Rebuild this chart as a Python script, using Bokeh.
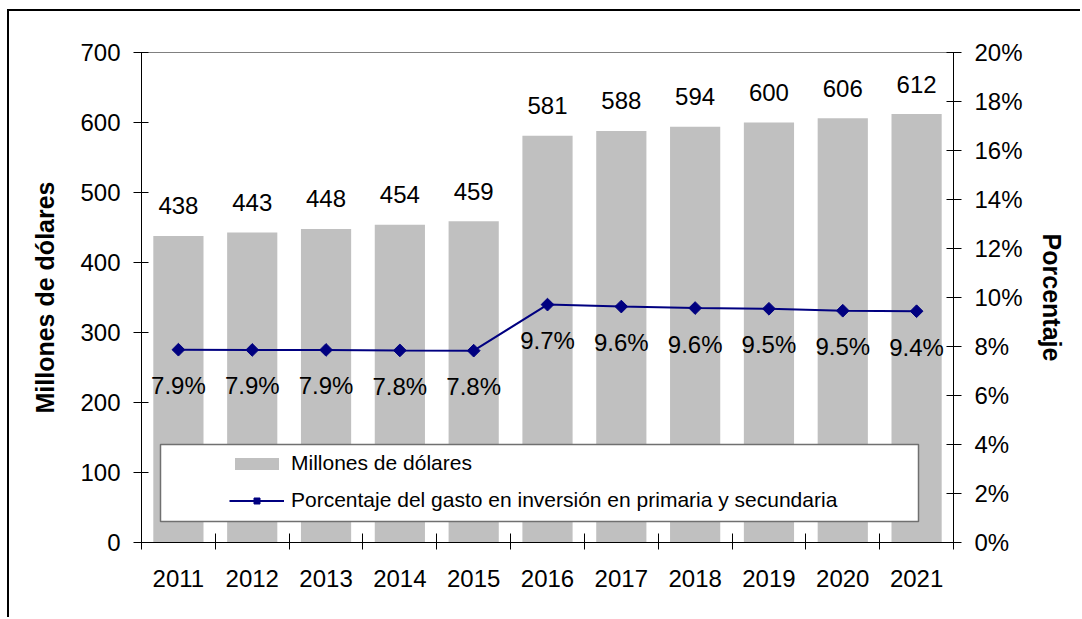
from bokeh.plotting import figure
from bokeh.models import (Range1d, LinearAxis, FixedTicker, NumeralTickFormatter,
                          ColumnDataSource, LabelSet, Legend, LegendItem, BoxAnnotation)
from bokeh.core.properties import value
from bokeh.embed import file_html
from bokeh.resources import INLINE

# ---------------- data ----------------
years = [2011, 2012, 2013, 2014, 2015, 2016, 2017, 2018, 2019, 2020, 2021]
year_labels = ["2011", "2012", "2013", "2014", "2015", "2016", "2017", "2018", "2019", "2020", "2021"]
millones = [438, 443, 448, 454, 459, 581, 588, 594, 600, 606, 612]
porcentaje = [0.0787, 0.0786, 0.0786, 0.0784, 0.0783, 0.0971, 0.0963, 0.0957, 0.0954, 0.0946, 0.0944]
left_ticks = [0, 100, 200, 300, 400, 500, 600, 700]
right_ticks = [0.0, 0.02, 0.04, 0.06, 0.08, 0.10, 0.12, 0.14, 0.16, 0.18, 0.20]
bar_name = "Millones de dólares"
line_name = "Porcentaje del gasto en inversión en primaria y secundaria"

FONT = "Liberation Sans"

src = ColumnDataSource(dict(
    x=years,
    m=millones,
    m_txt=[str(v) for v in millones],
    pc=porcentaje,
    pc_txt=[f"{v * 100:.1f}%" for v in porcentaje],
))

p = figure(width=1073, height=608, output_backend="svg", toolbar_location=None,
           x_range=Range1d(years[0] - 0.5, years[-1] + 0.5),
           y_range=Range1d(left_ticks[0], left_ticks[-1]),
           min_border_left=132, min_border_right=129,
           min_border_top=41, min_border_bottom=77)
p.extra_y_ranges = {"pct": Range1d(right_ticks[0], right_ticks[-1])}
p.xgrid.visible = False
p.ygrid.visible = False
p.outline_line_color = "#808080"
p.outline_line_width = 1
p.background_fill_color = "white"
p.border_fill_color = "white"
p.styles = {"border-top": "2px solid black", "border-left": "2px solid black",
            "margin-top": "9px", "margin-left": "7px"}

# bars
bars = p.vbar(x="x", top="m", width=0.68, source=src, fill_color="#c0c0c0", line_color=None)

# line + markers
line = p.line(x="x", y="pc", source=src, y_range_name="pct", line_color="#000080", line_width=2)
marks = p.scatter(x="x", y="pc", source=src, y_range_name="pct", marker="square",
                  size=9, angle=0.7854, fill_color="#000080", line_color="#000080")

# data labels
p.add_layout(LabelSet(x="x", y="m", text="m_txt", source=src, text_align="center",
                      text_baseline="middle", y_offset=30, text_font=value(FONT),
                      text_font_size=value("24px"), text_color="black"))
p.add_layout(LabelSet(x="x", y="pc", text="pc_txt", source=src, y_range_name="pct",
                      text_align="center", text_baseline="middle", y_offset=-36,
                      text_font=value(FONT), text_font_size=value("24px"), text_color="black"))

# axes
xa = p.xaxis[0]
xa.ticker = FixedTicker(ticks=years, minor_ticks=[y - 0.5 for y in years] + [years[-1] + 0.5])
xa.major_label_overrides = {y: l for y, l in zip(years, year_labels)}
xa.major_tick_line_color = None
xa.major_tick_in = 0
xa.major_tick_out = 7
xa.minor_tick_in = 9
xa.minor_tick_out = 7
xa.minor_tick_line_color = "black"
xa.axis_line_color = "black"
xa.major_label_standoff = 20
xa.major_label_text_font = FONT
xa.major_label_text_font_size = "24px"
xa.major_label_text_color = "black"

ya = p.yaxis[0]
ya.ticker = FixedTicker(ticks=left_ticks)
ya.major_tick_in = 7
ya.major_tick_out = 8
ya.minor_tick_line_color = None
ya.axis_line_color = "black"
ya.major_tick_line_color = "black"
ya.major_label_standoff = 13
ya.major_label_text_font = FONT
ya.major_label_text_font_size = "24px"
ya.major_label_text_color = "black"
ya.axis_label = bar_name
ya.axis_label_text_font = FONT
ya.axis_label_text_font_size = "25px"
ya.axis_label_text_font_style = "bold"
ya.axis_label_text_color = "black"
ya.axis_label_standoff = 18

ra = LinearAxis(y_range_name="pct", ticker=FixedTicker(ticks=right_ticks),
                formatter=NumeralTickFormatter(format="0%"))
ra.major_tick_in = 7
ra.major_tick_out = 8
ra.minor_tick_line_color = None
ra.axis_line_color = "black"
ra.major_tick_line_color = "black"
ra.major_label_standoff = 13
ra.major_label_text_font = FONT
ra.major_label_text_font_size = "24px"
ra.major_label_text_color = "black"
ra.axis_label = "Porcentaje"
ra.axis_label_text_font = FONT
ra.axis_label_text_font_size = "25px"
ra.axis_label_text_font_style = "bold"
ra.axis_label_text_color = "black"
ra.axis_label_standoff = 12
p.add_layout(ra, "right")

# legend frame
frame = BoxAnnotation(left=19, right=777, bottom=21, top=98,
                      left_units="screen", right_units="screen",
                      bottom_units="screen", top_units="screen",
                      fill_color="white", fill_alpha=1.0,
                      line_color="#707070", line_alpha=1.0, line_width=1.5)
p.add_layout(frame)

legend = Legend(items=[LegendItem(label=bar_name, renderers=[bars]),
                       LegendItem(label=line_name, renderers=[line, marks])],
                location=(88, 30), padding=0, margin=0, spacing=13,
                glyph_width=55, glyph_height=15, label_standoff=7,
                label_text_font=FONT, label_text_font_size="21px",
                label_text_color="black",
                border_line_color=None, background_fill_alpha=0.0)
p.add_layout(legend)

open("out.html", "w").write(file_html(p, INLINE))
